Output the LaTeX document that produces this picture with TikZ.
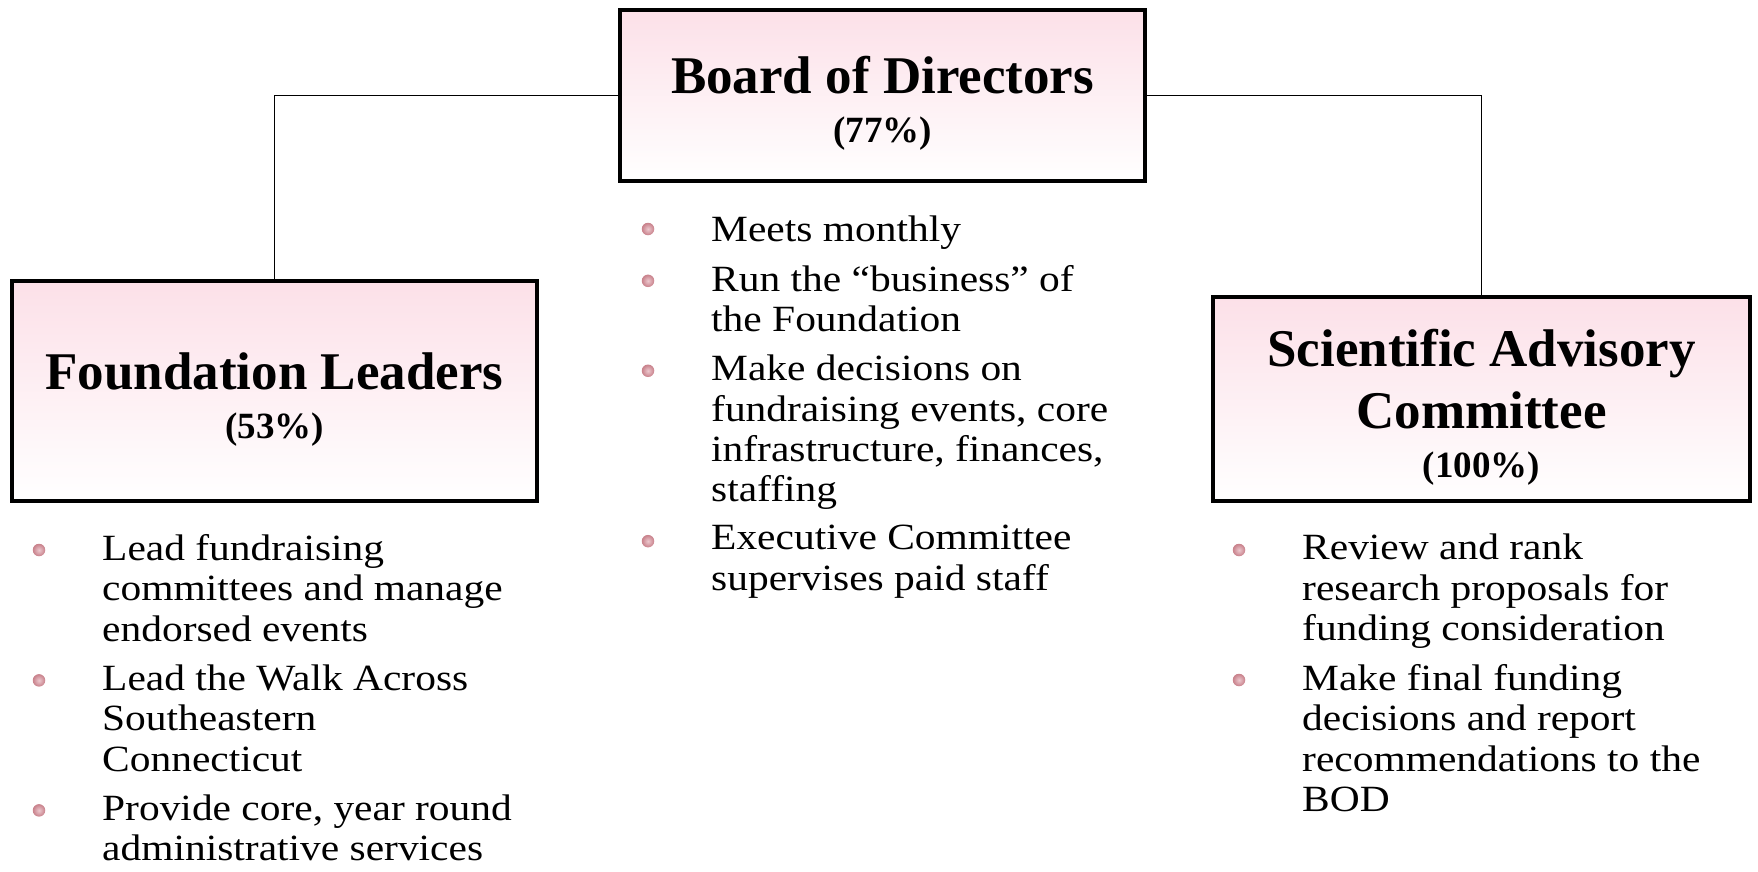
\documentclass[tikz,border=0pt]{standalone}
\usepackage{fontspec}
\setmainfont{Liberation Serif}
\newfontfamily\itemfont{Liberation Serif}[FakeStretch=1.12]
\usepackage{xcolor}
\usepackage{tikz}
\usetikzlibrary{%
    positioning,
    shadings
}
\definecolor{boxpink}{RGB}{252,224,232}
\definecolor{dotlight}{RGB}{236,200,206}
\definecolor{dotrose}{RGB}{200,128,138}
\newcommand\titlefont{\fontsize{53}{62}\selectfont\bfseries}
\newcommand\pctfont{\fontsize{37}{44}\selectfont}
\newcommand\lift{\rule{0pt}{53pt}}

\begin{document}
\begin{tikzpicture}[x=1pt, y=-1pt,
    unit/.style={draw, line width=4.5pt, top color=boxpink, bottom color=white,
      align=center, font=\titlefont},
    item/.style={anchor=north west, inner sep=0pt, align=left,
      font=\itemfont\fontsize{37}{40.4}\selectfont,
      execute at begin node=\strut, execute at end node=\strut},
    under/.style={below=11pt of #1.south west, anchor=north west},
    dot/.style={circle, inner sep=0pt, minimum size=12.5pt, shading=radial,
      inner color=dotlight, outer color=dotrose},
    link/.style={line width=1.5pt}]
  \useasboundingbox (0,0) rectangle (1758,871);

  \node[unit, minimum width=525pt, minimum height=171pt] (bod) at (882.5,95.5)
    {\lift Board of Directors\\[-13pt]{\pctfont (77\%)}};
  \node[unit, minimum width=525pt, minimum height=220pt] (leaders) at (274.5,391)
    {\lift Foundation Leaders\\[-13pt]{\pctfont (53\%)}};
  \node[unit, minimum width=537pt, minimum height=204pt] (sac) at (1481.5,399)
    {\lift Scientific Advisory\\Committee\\[-13pt]{\pctfont (100\%)}};

  \draw[link] (bod.west) -| (leaders.north);
  \draw[link] (bod.east) -| (sac.north);

  \node[item] (c1) at (711,213) {Meets monthly};
  \node[item, under=c1] (c2) {Run the “business” of\\the Foundation};
  \node[item, under=c2] (c3)
    {Make decisions on\\fundraising events, core\\infrastructure, finances,\\staffing};
  \node[item, under=c3] (c4) {Executive Committee\\supervises paid staff};

  \node[item] (l1) at (102,534)
    {Lead fundraising\\committees and manage\\endorsed events};
  \node[item, under=l1] (l2) {Lead the Walk Across\\Southeastern\\Connecticut};
  \node[item, under=l2] (l3) {Provide core, year round\\administrative services};

  \node[item] (r1) at (1302,534)
    {Review and rank\\research proposals for\\funding consideration};
  \node[item, under=r1] (r2)
    {Make final funding\\decisions and report\\recommendations to the\\BOD};

  \foreach \n in {c1,c2,c3,c4,l1,l2,l3,r1,r2}
    \node[dot] (dot-\n) at ([xshift=-63pt, yshift=-16pt]\n.north west) {};
\end{tikzpicture}
\end{document}
